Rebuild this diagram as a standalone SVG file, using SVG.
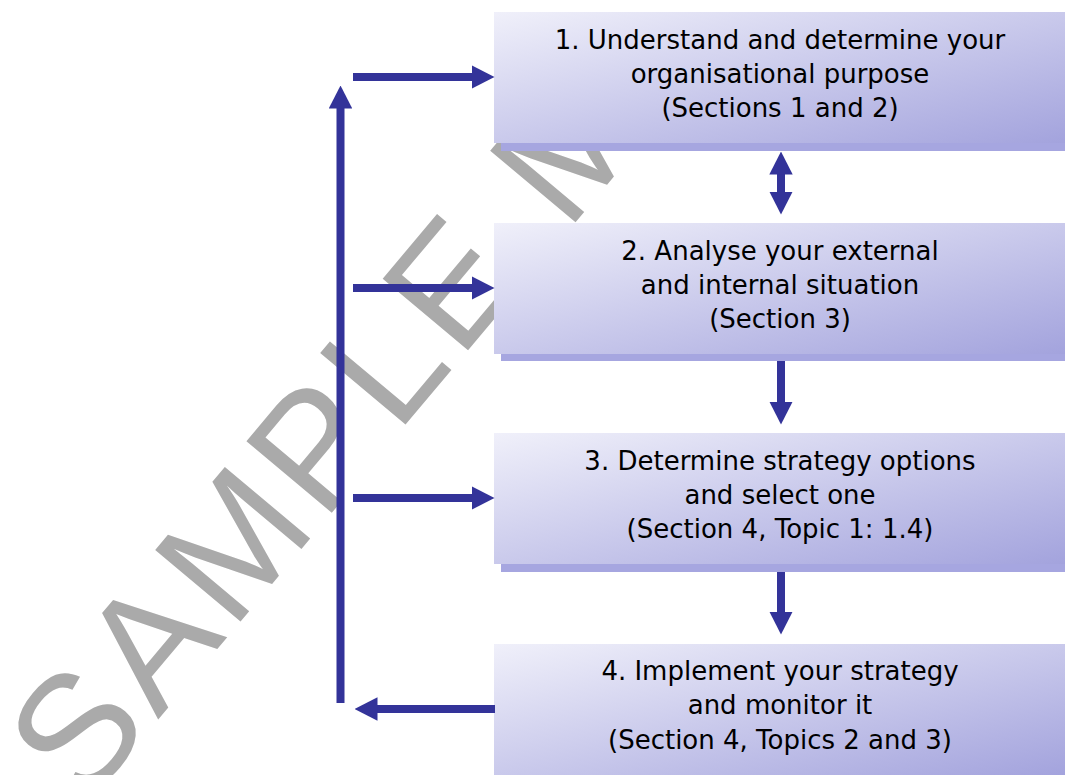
<svg xmlns="http://www.w3.org/2000/svg" width="1065" height="775" viewBox="0 0 1065 775">
  <style>
    .box { fill: url(#boxGrad); }
    .shadow { fill: #a6a6e0; }
    .label { font-family: "DejaVu Sans", "Noto Sans", sans-serif; font-size: 26px; fill: #000000; text-anchor: middle; }
    .conn { stroke: #333399; stroke-width: 8; fill: none; }
    .watermark { font-family: "Liberation Sans", Arial, sans-serif; font-size: 162px; letter-spacing: 7px; fill: #aaaaaa; }
  </style>
  <defs>
    <linearGradient id="boxGrad" x1="0" y1="0" x2="1" y2="1">
      <stop offset="0" stop-color="#f0f0fa"/>
      <stop offset="1" stop-color="#a3a3dd"/>
    </linearGradient>
    <marker id="ah" viewBox="0 0 23 23.4" markerWidth="23" markerHeight="23.4" markerUnits="userSpaceOnUse" refX="0.5" refY="11.7" orient="auto-start-reverse">
      <path d="M0,0 L23,11.7 L0,23.4 Z" fill="#333399"/>
    </marker>
  </defs>
  <rect x="0" y="0" width="1065" height="775" fill="#ffffff"/>

  <g id="watermark">
    <text class="watermark" transform="translate(84,808) rotate(-50)" x="0" y="0">SAMPLE M</text>
  </g>

  <g id="node1">
    <rect class="shadow" x="501" y="20" width="572" height="131"/>
    <rect class="box" x="494" y="12" width="572" height="131"/>
    <text class="label" x="780" y="49">1. Understand and determine your</text>
    <text class="label" x="780" y="83">organisational purpose</text>
    <text class="label" x="780" y="117">(Sections 1 and 2)</text>
  </g>

  <g id="node2">
    <rect class="shadow" x="501" y="230" width="572" height="131"/>
    <rect class="box" x="494" y="223" width="572" height="131"/>
    <text class="label" x="780" y="260">2. Analyse your external</text>
    <text class="label" x="780" y="294">and internal situation</text>
    <text class="label" x="780" y="328">(Section 3)</text>
  </g>

  <g id="node3">
    <rect class="shadow" x="501" y="441" width="572" height="131"/>
    <rect class="box" x="494" y="433" width="572" height="131"/>
    <text class="label" x="780" y="470">3. Determine strategy options</text>
    <text class="label" x="780" y="504">and select one</text>
    <text class="label" x="780" y="538">(Section 4, Topic 1: 1.4)</text>
  </g>

  <g id="node4">
    <rect class="shadow" x="501" y="651" width="572" height="131"/>
    <rect class="box" x="494" y="644" width="572" height="131"/>
    <text class="label" x="780" y="680">4. Implement your strategy</text>
    <text class="label" x="780" y="714">and monitor it</text>
    <text class="label" x="780" y="749">(Section 4, Topics 2 and 3)</text>
  </g>

  <g id="connectors">
    <line class="conn" x1="353" y1="77" x2="472" y2="77" marker-end="url(#ah)"/>
    <line class="conn" x1="353" y1="288" x2="472" y2="288" marker-end="url(#ah)"/>
    <line class="conn" x1="353" y1="498" x2="472" y2="498" marker-end="url(#ah)"/>
    <line class="conn" x1="495" y1="709" x2="377" y2="709" marker-end="url(#ah)"/>
    <line class="conn" x1="340.5" y1="703" x2="340.5" y2="108" marker-end="url(#ah)"/>
    <line class="conn" x1="781" y1="174" x2="781" y2="192" marker-start="url(#ah)" marker-end="url(#ah)"/>
    <line class="conn" x1="781" y1="361" x2="781" y2="402" marker-end="url(#ah)"/>
    <line class="conn" x1="781" y1="572" x2="781" y2="612" marker-end="url(#ah)"/>
  </g>
</svg>
